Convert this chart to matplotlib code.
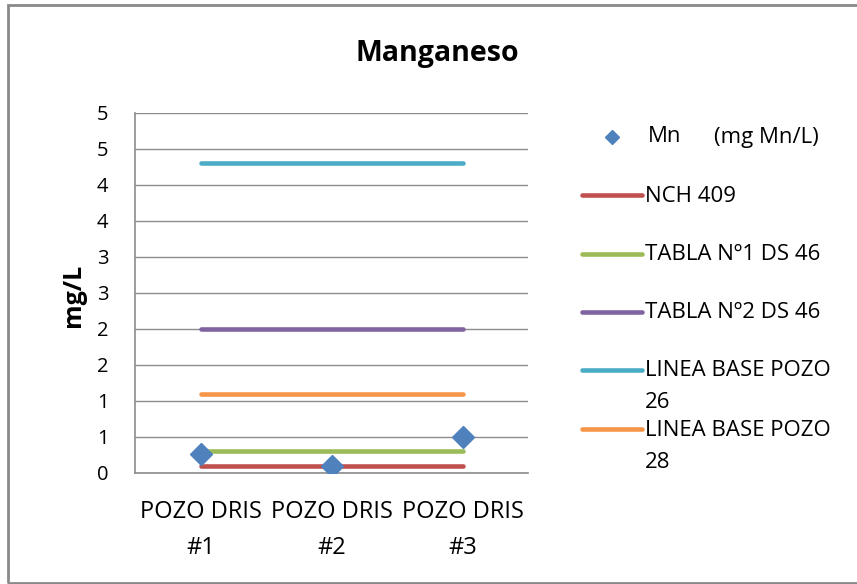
import matplotlib
matplotlib.use("Agg")
import matplotlib.pyplot as plt
from matplotlib.lines import Line2D
from matplotlib.patches import Rectangle
from matplotlib.ticker import FuncFormatter, MultipleLocator
import numpy as np

# ---- data ----
categories = ["POZO DRIS\n#1", "POZO DRIS\n#2", "POZO DRIS\n#3"]
mn = [0.26, 0.10, 0.50]
nch409 = [0.1, 0.1, 0.1]
tabla1 = [0.3, 0.3, 0.3]
tabla2 = [2.0, 2.0, 2.0]
linea26 = [4.3, 4.3, 4.3]
linea28 = [1.1, 1.1, 1.1]

series = [
    ("NCH 409", nch409, "#C0504D"),
    ("TABLA Nº1 DS 46", tabla1, "#9BBB59"),
    ("TABLA Nº2 DS 46", tabla2, "#8064A2"),
    ("LINEA BASE POZO\n26", linea26, "#4BACC6"),
    ("LINEA BASE POZO\n28", linea28, "#F79646"),
]
mn_label = ["Mn", "(mg Mn/L)"]
mn_color = "#4F81BD"

FONT = "Open Sans"
W, H = 857, 584
fig = plt.figure(figsize=(W / 100, H / 100), dpi=100)

def fx(px):
    return px / W

def fy(py):
    return 1 - py / H

ax = fig.add_axes([fx(135), fy(473), fx(528) - fx(135), fy(113) - fy(473)])
x = np.arange(len(categories))

for name, vals, col in series:
    ax.plot(x, vals, color=col, lw=3.3, solid_capstyle="round", zorder=3)
ax.plot(x, mn, linestyle="none", marker="D", markersize=11,
        color=mn_color, zorder=4)

ax.set_xlim(-0.5, len(categories) - 0.5)
ax.set_ylim(0, 5)
ax.yaxis.set_major_locator(MultipleLocator(0.5))
ax.yaxis.set_major_formatter(FuncFormatter(lambda v, p: f"{int(np.floor(v + 0.5 + 1e-9))}"))
ax.grid(axis="y", color="#8c8c8c", lw=1.0, zorder=1)
ax.set_axisbelow(True)
ax.set_xticks(x)
ax.set_xticklabels(categories, fontfamily=FONT, fontsize=17, linespacing=1.65)
for lab in ax.get_yticklabels():
    lab.set_fontfamily(FONT)
    lab.set_fontsize(14.5)
ax.tick_params(axis="y", length=0, pad=19)
ax.tick_params(axis="x", length=0, pad=19.5)
for s in ["top", "right"]:
    ax.spines[s].set_visible(False)
for s in ["left", "bottom"]:
    ax.spines[s].set_color("#8c8c8c")
    ax.spines[s].set_linewidth(1.2)

fig.text(fx(73), fy(295), "mg/L", rotation=90, ha="center", va="center",
         fontfamily=FONT, fontsize=18, fontweight="bold")
fig.text(fx(437), fy(53), "Manganeso", ha="center", va="center",
         fontfamily=FONT, fontsize=20.5, fontweight="bold")

# ---- legend ----
LEG_FS = 16
fig.add_artist(Line2D([fx(612)], [fy(137)], marker="D", markersize=7,
                      color=mn_color, linestyle="none", transform=fig.transFigure))
fig.text(fx(648), fy(137), mn_label[0], ha="left", va="center",
         fontfamily=FONT, fontsize=LEG_FS)
fig.text(fx(714), fy(137), mn_label[1], ha="left", va="center",
         fontfamily=FONT, fontsize=LEG_FS)
leg_y = [195, 254, 312, 370, 429]
for (name, vals, col), yy in zip(series, leg_y):
    fig.add_artist(Line2D([fx(582), fx(642)], [fy(yy), fy(yy)], color=col, lw=3.3,
                          solid_capstyle="round", transform=fig.transFigure))
    for i, part in enumerate(name.split("\n")):
        fig.text(fx(645), fy(yy + 1 + 32 * i), part, ha="left", va="center",
                 fontfamily=FONT, fontsize=LEG_FS)

fig.add_artist(Rectangle((fx(8), fy(583)), fx(860) - fx(8), fy(5) - fy(583),
                         fill=False, edgecolor="#8a8a8a", lw=2,
                         transform=fig.transFigure))

fig.savefig("out.png", dpi=100)
